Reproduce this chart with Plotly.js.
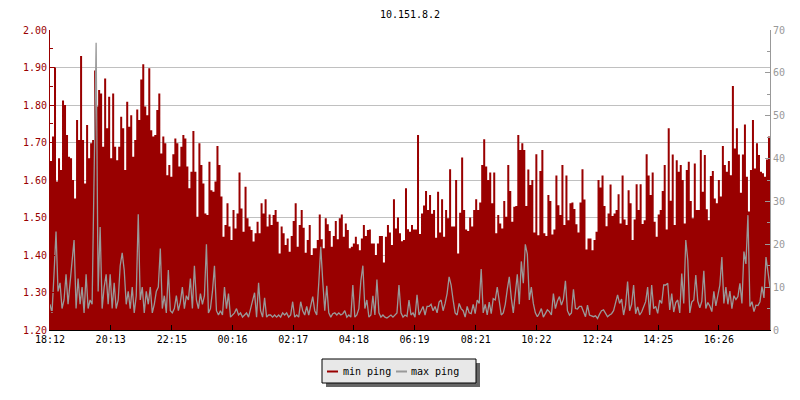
<!DOCTYPE html>
<html>
<head>
<meta charset="utf-8">
<script src="https://cdn.plot.ly/plotly-3.0.1.min.js"></script>
<style>html,body{margin:0;padding:0;background:#fff;}#chart{width:800px;height:400px;}</style>
</head>
<body>
<div id="chart"></div>
<script>
// ---- data (one sample every 4 minutes, starting 18:12) ----
const chartTitle = '10.151.8.2';
const seriesNames = ['min ping', 'max ping'];
const startTime = '2024-05-01 18:12';
const sampleMinutes = 4;

const minPing = [
1.649,1.716,1.900,1.596,1.658,1.627,1.812,1.800,1.720,1.662,
1.658,1.600,1.551,1.760,1.707,1.931,1.707,1.591,1.747,1.658,
1.698,1.707,1.892,1.796,1.840,1.831,1.689,1.871,1.738,1.822,
1.658,1.831,1.689,1.653,1.689,1.769,1.738,1.627,1.809,1.742,
1.773,1.662,1.707,1.788,1.760,1.868,1.909,1.796,1.773,1.898,
1.733,1.716,1.720,1.787,1.831,1.671,1.716,1.698,1.613,1.640,
1.609,1.669,1.711,1.698,1.636,1.689,1.720,1.711,1.636,1.578,
1.622,1.731,1.622,1.502,1.698,1.640,1.591,1.511,1.507,1.649,
1.573,1.569,1.596,1.691,1.640,1.556,1.449,1.480,1.538,1.476,
1.440,1.520,1.471,1.511,1.620,1.524,1.462,1.582,1.498,1.476,
1.467,1.436,1.458,1.489,1.458,1.538,1.511,1.549,1.476,1.508,
1.480,1.507,1.520,1.489,1.404,1.476,1.458,1.427,1.444,1.409,
1.451,1.491,1.538,1.422,1.480,1.520,1.473,1.406,1.440,1.480,
1.400,1.418,1.418,1.440,1.508,1.442,1.418,1.498,1.482,1.464,
1.422,1.451,1.491,1.442,1.498,1.508,1.449,1.484,1.467,1.418,
1.422,1.431,1.449,1.429,1.413,1.444,1.480,1.451,1.467,1.468,
1.431,1.431,1.400,1.431,1.451,1.451,1.380,1.449,1.480,1.460,
1.427,1.549,1.471,1.500,1.458,1.437,1.440,1.578,1.469,1.462,
1.480,1.468,1.468,1.720,1.456,1.511,1.532,1.571,1.520,1.560,
1.510,1.520,1.446,1.569,1.460,1.549,1.449,1.520,1.498,1.629,
1.476,1.476,1.600,1.404,1.513,1.660,1.520,1.468,1.464,1.500,
1.476,1.520,1.549,1.520,1.540,1.640,1.709,1.636,1.600,1.620,
1.538,1.620,1.458,1.507,1.484,1.471,1.544,1.502,1.640,1.571,
1.489,1.529,1.531,1.720,1.680,1.698,1.680,1.531,1.628,1.587,
1.600,1.460,1.669,1.453,1.624,1.680,1.458,1.451,1.560,1.544,
1.455,1.468,1.612,1.533,1.507,1.640,1.480,1.612,1.493,1.538,
1.540,1.523,1.482,1.460,1.540,1.629,1.548,1.415,1.444,1.444,
1.413,1.440,1.462,1.600,1.580,1.612,1.531,1.477,1.511,1.588,
1.504,1.511,1.520,1.562,1.484,1.612,1.495,1.480,1.573,1.538,
1.440,1.495,1.589,1.520,1.589,1.483,1.493,1.669,1.612,1.560,
1.620,1.489,1.449,1.508,1.520,1.571,1.640,1.468,1.738,1.545,
1.668,1.480,1.653,1.622,1.640,1.600,1.484,1.627,1.649,1.544,
1.498,1.644,1.520,1.520,1.680,1.569,1.667,1.522,1.493,1.611,
1.624,1.551,1.538,1.600,1.556,1.691,1.640,1.622,1.651,1.613,
1.851,1.684,1.738,1.668,1.566,1.668,1.748,1.609,1.516,1.627,
1.760,1.631,1.698,1.667,1.622,1.618,1.609,1.655,1.716,1.778
];

const maxPing = [
6,4,13,23,9,11,5,7,13,6,
11,16,21,5,12,6,10,4,13,5,
7,6,38,67,9,24,5,10,13,6,
13,5,11,5,7,15,18,14,6,9,
5,10,4,8,27,7,10,4,9,6,
10,4,6,9,10,19,5,8,4,14,
4.5,4,5,8,4.5,6.5,10,5,8,7,
12,5,15,7,5,8.5,6,8,20,4,
5,9,15,4.5,3.5,4.5,3.5,10,5,8.5,
3,3.5,4,5,3.5,4,3,3.5,4,3,
5,6.5,8.7,3,11,4.5,3,7.5,3,3.5,
3.5,3,3.5,3,3.5,3,4,3.5,4,3,
3.5,6.6,3,3.5,3,6.6,4.5,3.5,5.5,3.5,
6,7.8,4.5,3.5,10.9,19.4,11.3,4.5,10.3,4,
3,3.8,4,3.5,4,3.5,3.8,4.5,3,3.5,
3,10.5,3,3.5,5,11.5,15,5,7,3,
3.5,8,3.5,11.8,4,3,3.5,3,2.8,3.1,
3.5,3,3.5,4,10.5,4,3,3.5,3.2,7,
3.5,4,3,8.2,3.5,4.5,5.5,3.5,5.5,5.5,
6,4.5,5.5,4,6.5,7,4.5,6.2,8.5,12.4,
10.5,7,4,3.5,6.2,5,4.5,3,5.5,4,
3.8,6,3.8,7,6.2,14.2,4,6,3.5,6.5,
3.8,7.3,7,10,6,3.5,4,6,9.5,12.4,
7.5,4,8.5,13,6,16,10.9,20,17.7,7,
10,6.2,4,3.1,3.9,5,3,3.9,4.7,4.3,
3.5,8.5,5,6.8,7.8,5.8,7.2,11.5,4.5,3.5,
4,9.5,5,4.9,5.5,5.5,4.3,3.1,5.8,3.5,
3.3,3.1,3.3,2.7,3.7,4.5,4.7,3.8,3.1,3.5,
3.8,4.5,6.2,8.2,6.2,7.2,3.5,5.8,11.3,4.5,
6,10.5,3.8,5.4,3.5,4.2,5.4,6.6,10,3.5,
10.5,5,5.5,3.9,7,6.2,10.5,10.5,10.9,4.7,
8.5,4.2,6.4,7,4,13.2,6.2,21,16.3,4,
6.5,7,12.8,6.7,5.2,6.7,13.8,5,6.4,5.6,
4.3,9,5.6,8,10.5,17,6.2,10,6,9.1,
5,8,7.1,7.8,10.9,6.2,18.3,15.4,26.8,5.5,
6.6,4.3,5.8,5.7,6.6,10.1,7.5,17,13.8,10
];

const tickTimes = ['2024-05-01 18:12','2024-05-01 20:13','2024-05-01 22:15','2024-05-02 00:16',
  '2024-05-02 02:17','2024-05-02 04:18','2024-05-02 06:19','2024-05-02 08:21',
  '2024-05-02 10:22','2024-05-02 12:24','2024-05-02 14:25','2024-05-02 16:26'];
const tickLabels = ['18:12','20:13','22:15','00:16','02:17','04:18','06:19','08:21','10:22','12:24','14:25','16:26'];

// ---- build ----
function toMs(s){ const p = s.split(/[- :]/).map(Number); return Date.UTC(p[0], p[1]-1, p[2], p[3], p[4]); }
const t0 = toMs(startTime);
const times = minPing.map((_, i) => t0 + i * sampleMinutes * 60000);

const RED = '#990000', GREY = '#999999';
const FONT = 'DejaVu Sans Mono, monospace';

const traces = [
  { x: times, y: minPing, name: seriesNames[0], type: 'scatter', mode: 'lines',
    line: { shape: 'hv', width: 0, color: RED }, fill: 'tozeroy', fillcolor: RED,
    yaxis: 'y', showlegend: false, hoverinfo: 'skip' },
  { x: times, y: maxPing, name: seriesNames[1], type: 'scatter', mode: 'lines',
    line: { shape: 'linear', width: 1.3, color: GREY },
    yaxis: 'y2', showlegend: false, hoverinfo: 'skip' }
];

// plot area: x 50..770, y 30..330 (pixels) -> paper helpers for the hand-made legend box
const px = v => (v - 50) / 720;
const py = v => (330 - v) / 300;

const layout = {
  width: 800, height: 400,
  margin: { l: 50, r: 30, t: 30, b: 70, pad: 0 },
  paper_bgcolor: '#ffffff', plot_bgcolor: '#ffffff',
  font: { family: FONT, size: 10, color: '#000' },
  title: { text: chartTitle, x: 0.5, xref: 'paper', xanchor: 'center', y: 1 - 14/400, yref: 'container', yanchor: 'middle',
           font: { family: FONT, size: 10, color: '#000' } },
  showlegend: false,
  xaxis: {
    type: 'date', range: [times[0], times[times.length - 1]],
    tickvals: tickTimes, ticktext: tickLabels,
    ticks: 'inside', ticklen: 5, tickcolor: '#000', tickwidth: 1,
    showline: true, linecolor: '#000', linewidth: 1, showgrid: false, zeroline: false,
    tickfont: { family: FONT, size: 10, color: '#000' }
  },
  yaxis: {
    range: [1.2, 2.0], dtick: 0.1, tick0: 1.2, tickformat: '.2f',
    ticks: 'inside', ticklen: 5, tickcolor: RED, tickwidth: 1,
    showline: true, linecolor: RED, linewidth: 1, mirror: false,
    showgrid: true, gridcolor: '#c0c0c0', gridwidth: 1, zeroline: false,
    minor: { dtick: 0.05, tick0: 1.2, ticks: 'inside', ticklen: 3, tickcolor: RED, showgrid: false },
    tickfont: { family: FONT, size: 10, color: RED }
  },
  yaxis2: {
    overlaying: 'y', side: 'right', range: [0, 70], dtick: 10, tick0: 0,
    ticks: 'inside', ticklen: 5, tickcolor: GREY, tickwidth: 1,
    showline: true, linecolor: GREY, linewidth: 1, showgrid: false, zeroline: false,
    minor: { dtick: 5, tick0: 0, ticks: 'inside', ticklen: 3, tickcolor: GREY, showgrid: false },
    tickfont: { family: FONT, size: 10, color: GREY }
  },
  shapes: [
    { type: 'rect', xref: 'paper', yref: 'paper', x0: px(326), x1: px(480), y0: py(363), y1: py(387),
      fillcolor: '#666666', line: { width: 0 }, layer: 'above' },
    { type: 'rect', xref: 'paper', yref: 'paper', x0: px(322), x1: px(476), y0: py(359), y1: py(383),
      fillcolor: '#e8e8e8', line: { width: 1, color: '#000' }, layer: 'above' },
    { type: 'line', xref: 'paper', yref: 'paper', x0: px(327), x1: px(338), y0: py(371.5), y1: py(371.5),
      line: { width: 2, color: RED }, layer: 'above' },
    { type: 'line', xref: 'paper', yref: 'paper', x0: px(396), x1: px(407), y0: py(371.5), y1: py(371.5),
      line: { width: 2, color: GREY }, layer: 'above' }
  ],
  annotations: [
    { text: seriesNames[0], xref: 'paper', yref: 'paper', x: px(341), y: py(371), xanchor: 'left', yanchor: 'middle',
      showarrow: false, font: { family: FONT, size: 10, color: '#000' } },
    { text: seriesNames[1], xref: 'paper', yref: 'paper', x: px(409), y: py(371), xanchor: 'left', yanchor: 'middle',
      showarrow: false, font: { family: FONT, size: 10, color: '#000' } }
  ]
};

Plotly.newPlot('chart', traces, layout, { displayModeBar: false, staticPlot: true });
</script>
</body>
</html>
